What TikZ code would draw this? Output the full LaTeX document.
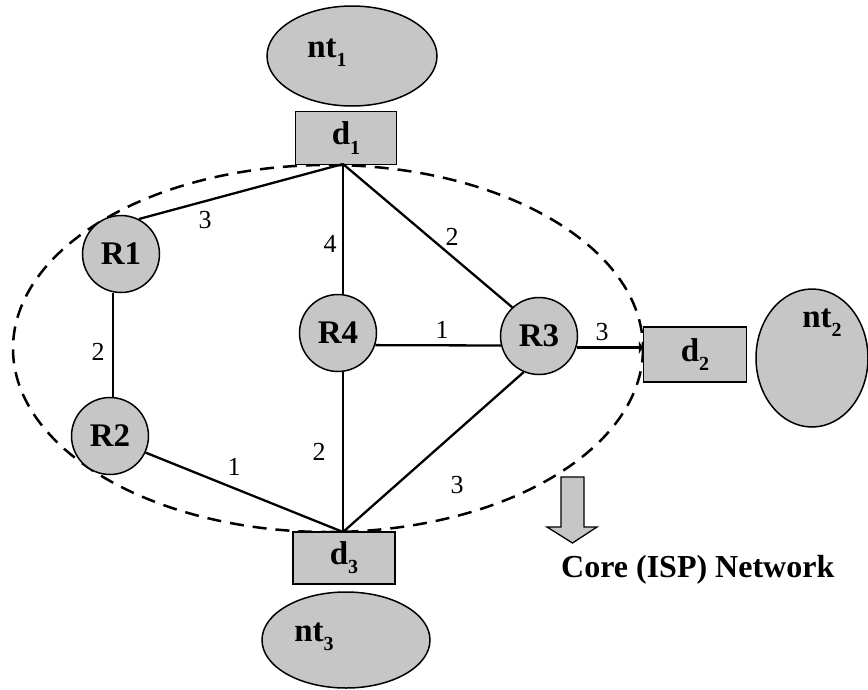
\documentclass[tikz,border=0pt]{standalone}
\usepackage{fontspec}
\setmainfont{Liberation Serif}
\usetikzlibrary{shapes.geometric,arrows.meta}
\definecolor{fillg}{RGB}{198,198,198}
\newcommand{\mysub}[1]{\raisebox{-0.28em}{\fontsize{20}{20}\selectfont #1}}
\tikzset{
  router/.style={circle, draw=black, line width=1.5pt, fill=fillg, minimum size=77pt, inner sep=0pt, font=\fontsize{33}{33}\selectfont\bfseries},
  dbox/.style={rectangle, draw=black, line width=1.5pt, fill=fillg, minimum width=101pt, minimum height=53pt, inner sep=0pt, font=\fontsize{33}{33}\selectfont\bfseries},
  netell/.style={ellipse, draw=black, line width=1.5pt, fill=fillg, inner sep=0pt},
  nlabel/.style={inner sep=0pt, font=\fontsize{33}{33}\selectfont\bfseries},
  link/.style={line width=2.3pt},
  wlabel/.style={inner sep=0pt, font=\fontsize{26}{26}\selectfont},
}
\begin{document}
\begin{tikzpicture}[x=1pt,y=-1pt]
\useasboundingbox (0,0) rectangle (868,689);
% core boundary
\draw[line width=2.5pt, dash pattern=on 14pt off 9pt] (328,348.5) ellipse [x radius=315, y radius=183.5];
% networks
\node[netell, minimum width=170pt, minimum height=100pt] (nt1) at (352,56) {};
\node[nlabel] (nt1l) at (327,53) {nt\mysub{1}};
\node[netell, minimum width=112pt, minimum height=138pt] (nt2) at (812,358) {};
\node[nlabel] (nt2l) at (822,323) {nt\mysub{2}};
\node[netell, minimum width=168pt, minimum height=96pt] (nt3) at (346,640) {};
\node[nlabel] (nt3l) at (314,637) {nt\mysub{3}};
% domains
\node[dbox] (d1) at (346,138) {d\mysub{1}};
\node[dbox, minimum width=103pt, minimum height=55pt] (d2) at (695,354.5) {d\mysub{2}};
\node[dbox, minimum width=102pt, minimum height=52pt] (d3) at (344,558) {d\mysub{3}};
\coordinate (d1b) at (343,164);
\coordinate (d3t) at (343,532);
% routers
\node[router] (R1) at (121,254) {R1};
\node[router] (R2) at (110,436) {R2};
\node[router] (R4) at (338,333) {R4};
\node[router] (R3) at (539,336) {R3};
% links
\draw[link] (d1b) -- (R1.63);
\draw[link] (d1b) -- (d1b |- R4.north);
\draw[link] (d1b) -- (R3.133);
\draw[line width=1.6pt] ([xshift=3pt]R2.north) -- ([xshift=3pt]R2.north |- R1.south);
\draw[link] (R4.-18) -- (R3.194);
\draw[link] (R2.-25) -- (d3t);
\draw[link] (R4.south -| d3t) -- (d3t);
\draw[link] (R3.-113) -- (d3t);
\draw[link, -{Triangle[length=4pt,width=13pt]}] (R3.-17) -- (R3.-17 -| d2.west);
% weights
\node[wlabel] (w1) at (205,220) {3};
\node[wlabel] (w2) at (330,244) {4};
\node[wlabel] (w3) at (452,237) {2};
\node[wlabel] (w4) at (98,352) {2};
\node[wlabel] (w5) at (442,330) {1};
\node[wlabel] (w6) at (602,332) {3};
\node[wlabel] (w7) at (319,452) {2};
\node[wlabel] (w8) at (234,467) {1};
\node[wlabel] (w9) at (457,485) {3};
% core arrow
\draw[line width=1.3pt, fill=fillg] (561,477) -- (584,477) -- (584,527) -- (597,527) -- (572.5,543) -- (547,527) -- (561,527) -- cycle;
\node[anchor=base west, inner sep=0pt, font=\fontsize{32}{32}\selectfont\bfseries] (core) at (561,577) {Core (ISP) Network};
\end{tikzpicture}
\end{document}
